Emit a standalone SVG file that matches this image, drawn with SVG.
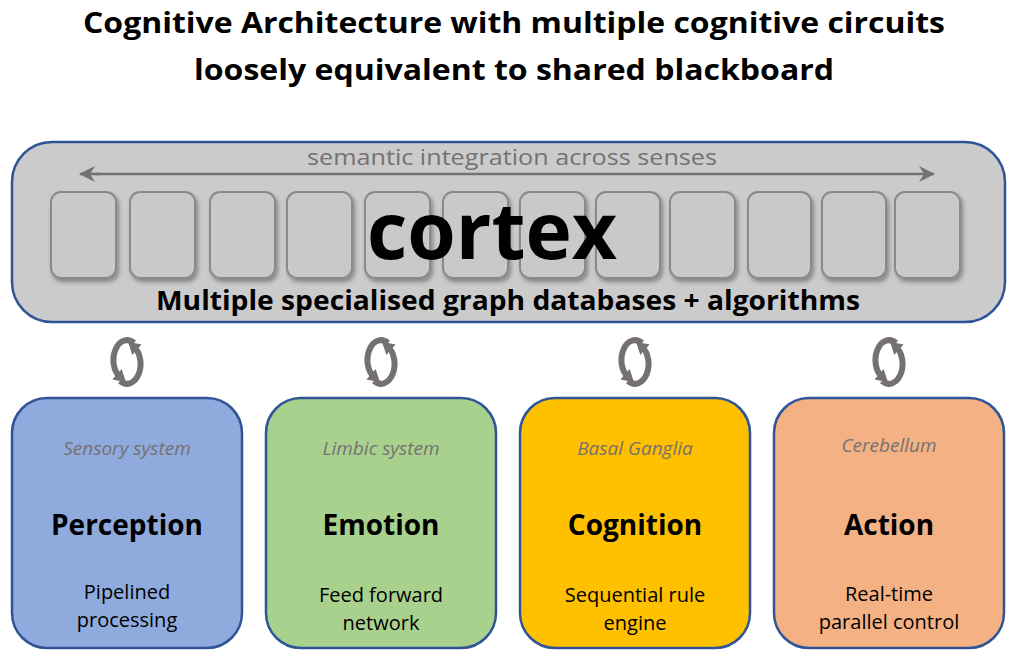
<svg xmlns="http://www.w3.org/2000/svg" width="1023" height="665" viewBox="0 0 1023 665">
<defs>
<filter id="sh" x="-20%" y="-20%" width="150%" height="150%"><feDropShadow dx="2" dy="3" stdDeviation="2" flood-color="#000" flood-opacity="0.35"/></filter>
<marker id="ah" markerWidth="18" markerHeight="16" refX="15" refY="8" orient="auto" markerUnits="userSpaceOnUse"><path d="M0,0 L16,8 L0,16 L5,8Z" fill="#767171"/></marker>
<marker id="ch" markerWidth="14" markerHeight="14" refX="4" refY="7" orient="auto" markerUnits="userSpaceOnUse"><path d="M0,0 L12,7 L0,14Z" fill="#767171"/></marker>
<g id="cyc"><path d="M7,-19 A13,19 0 0 0 -7,15" fill="none" stroke="#767171" stroke-width="6" marker-end="url(#ch)"/><path d="M-7,19 A13,19 0 0 0 7,-15" fill="none" stroke="#767171" stroke-width="6" marker-end="url(#ch)"/></g>
</defs>
<style>
text{font-family:"Open Sans","Liberation Sans",sans-serif;text-anchor:middle}
.t{font-weight:bold;font-size:29px;fill:#000}
.sm{fill:#c9c9c9;stroke:#8a8a8a;stroke-width:2;filter:url(#sh)}
.bx{stroke:#2f5597;stroke-width:2.5}
.it{font-style:italic;font-size:19px;fill:#767171}
.h{font-weight:bold;font-size:28px}
.d{font-size:20px}
</style>
<text class="t" x="514" y="33" textLength="862" lengthAdjust="spacingAndGlyphs">Cognitive Architecture with multiple cognitive circuits</text>
<text class="t" x="514" y="80" textLength="640" lengthAdjust="spacingAndGlyphs">loosely equivalent to shared blackboard</text>
<g id="cortex">
<rect x="12" y="142" width="993" height="180" rx="40" fill="#cbcbcb" class="bx"/>
<rect class="sm" x="51" y="192" width="65" height="86" rx="10"/>
<rect class="sm" x="130" y="192" width="65" height="86" rx="10"/>
<rect class="sm" x="210" y="192" width="65" height="86" rx="10"/>
<rect class="sm" x="287" y="192" width="65" height="86" rx="10"/>
<rect class="sm" x="365" y="192" width="65" height="86" rx="10"/>
<rect class="sm" x="443" y="192" width="65" height="86" rx="10"/>
<rect class="sm" x="520" y="192" width="65" height="86" rx="10"/>
<rect class="sm" x="596" y="192" width="64" height="86" rx="10"/>
<rect class="sm" x="670" y="192" width="65" height="86" rx="10"/>
<rect class="sm" x="748" y="192" width="63" height="86" rx="10"/>
<rect class="sm" x="822" y="192" width="64" height="86" rx="10"/>
<rect class="sm" x="895" y="192" width="65" height="86" rx="10"/>
<line x1="100" y1="174" x2="80" y2="174" stroke="#767171" stroke-width="2.5" marker-end="url(#ah)"/>
<line x1="95" y1="174" x2="934" y2="174" stroke="#767171" stroke-width="2.5" marker-end="url(#ah)"/>
<text x="512" y="165" font-size="22" fill="#767171" textLength="410" lengthAdjust="spacingAndGlyphs">semantic integration across senses</text>
<text x="492" y="259" font-size="78" font-weight="bold" textLength="250" lengthAdjust="spacingAndGlyphs">cortex</text>
<text x="508" y="310" font-size="26" font-weight="bold" textLength="704" lengthAdjust="spacingAndGlyphs">Multiple specialised graph databases + algorithms</text>
</g>
<g id="connectors">
<use href="#cyc" x="127" y="362"/><use href="#cyc" x="381" y="362"/><use href="#cyc" x="635" y="362"/><use href="#cyc" x="889" y="362"/>
</g>
<g id="perception"><rect class="bx" x="12" y="398" width="230" height="250" rx="35" fill="#8faadc"/>
<text class="it" x="127" y="455">Sensory system</text><text class="h" x="127" y="535">Perception</text>
<text class="d" x="127" y="599">Pipelined</text><text class="d" x="127" y="627">processing</text></g>
<g id="emotion"><rect class="bx" x="266" y="398" width="230" height="250" rx="35" fill="#a9d18e"/>
<text class="it" x="381" y="455">Limbic system</text><text class="h" x="381" y="535">Emotion</text>
<text class="d" x="381" y="602">Feed forward</text><text class="d" x="381" y="630">network</text></g>
<g id="cognition"><rect class="bx" x="520" y="398" width="230" height="250" rx="35" fill="#ffc000"/>
<text class="it" x="635" y="455">Basal Ganglia</text><text class="h" x="635" y="535">Cognition</text>
<text class="d" x="635" y="602">Sequential rule</text><text class="d" x="635" y="630">engine</text></g>
<g id="action"><rect class="bx" x="774" y="398" width="230" height="250" rx="35" fill="#f4b183"/>
<text class="it" x="889" y="452">Cerebellum</text><text class="h" x="889" y="535">Action</text>
<text class="d" x="889" y="601">Real-time</text><text class="d" x="889" y="629">parallel control</text></g>
</svg>
